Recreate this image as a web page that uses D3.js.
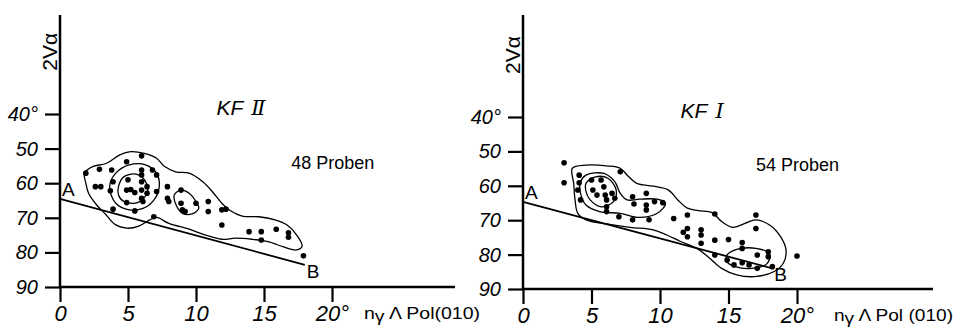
<!DOCTYPE html>
<html>
<head>
<meta charset="utf-8">
<script src="https://cdn.jsdelivr.net/npm/d3@7"></script>
<style>
  body { margin: 0; background: #fff; }
  svg { display: block; }
  .tick text { font-family: "Liberation Sans", Arial, sans-serif; font-style: italic; fill: #000; }
  .lbl { font-family: "Liberation Sans", Arial, sans-serif; fill: #000; }
</style>
</head>
<body>
<div class="container"></div>
<script>
const width = 955;
const height = 329;

const xTicks = [0, 5, 10, 15, 20];
const yTicks = [40, 50, 60, 70, 80, 90];

// KF II, 48 Proben
const kf2X = [1.9, 2.9, 2.6, 3.0, 3.8, 3.9, 3.7, 3.9, 4.9, 5.0, 4.9, 5.2, 5.5, 4.9, 5.5, 6.0, 6.0, 6.0, 6.0, 6.0, 6.0, 6.1, 6.4, 6.4,
  6.8, 7.1, 7.1, 6.9, 7.9, 7.9, 8.0, 8.9, 8.9, 9.0, 9.2, 10.0, 10.9, 10.9, 11.9, 12.2, 11.9, 13.9, 14.8, 14.8, 15.9, 16.8, 16.8, 17.9];
const kf2Y = [57.1, 56.0, 61.0, 61.0, 56.2, 59.6, 62.2, 67.5, 53.8, 59.0, 62.0, 61.8, 62.7, 65.6, 68.0, 52.1, 56.2, 57.6, 59.6, 62.0, 64.4, 65.3, 61.0, 62.9,
  56.2, 57.6, 62.4, 69.7, 61.0, 64.4, 65.3, 62.0, 65.8, 67.7, 68.2, 65.8, 65.3, 68.2, 67.7, 67.5, 72.1, 74.0, 74.0, 76.4, 73.3, 74.3, 75.6, 81.0];

// KF I, 54 Proben
const kf1X = [3.0, 3.0, 4.1, 4.1, 4.0, 4.2, 5.0, 5.1, 5.4, 5.7, 5.9, 6.0, 6.1, 6.1, 6.1, 6.5, 6.7, 7.1, 7.0, 8.0, 8.1, 8.0, 9.0, 9.0, 9.0, 9.2, 9.6,
  10.2, 11.0, 12.0, 12.0, 12.0, 13.0, 13.0, 13.0, 14.0, 14.0, 15.0, 16.0, 17.0, 17.0, 16.0, 14.9, 16.0, 17.1, 17.1, 17.9, 17.9, 18.2, 20.0, 14.0, 15.4, 16.5, 11.7];
const kf1Y = [53.3, 59.1, 56.9, 59.1, 61.2, 64.1, 58.3, 61.2, 62.7, 58.3, 60.3, 62.7, 64.1, 66.1, 67.5, 62.2, 63.6, 55.9, 69.0, 63.2, 65.3, 69.9, 62.2, 65.6, 67.0, 69.9, 64.6,
  64.9, 69.5, 68.5, 72.4, 74.8, 72.8, 74.3, 76.7, 68.2, 75.8, 75.6, 76.5, 68.5, 72.4, 78.2, 81.6, 82.4, 80.1, 84.0, 79.2, 80.6, 83.5, 80.4, 80.1, 83.0, 83.0, 73.5];

// isolines [x, 2V]
const kf2Contours = [
  [[1.8, 57.1], [2.4, 55.2], [3.4, 54.3], [4.4, 51.8], [5.2, 50.9], [6.2, 51.4], [7.1, 52.8], [7.7, 55.2], [8.5, 56.7], [9.5, 57.1],
   [10.5, 59.6], [11.3, 62.9], [11.9, 65.8], [12.5, 67.9], [13.4, 69.5], [14.6, 69.7], [15.8, 70.6], [16.7, 72.1], [17.4, 75.0],
   [17.8, 78.2], [17.4, 79.3], [16.5, 78.5], [15.3, 76.9], [14.1, 76.2], [12.9, 75.9], [11.9, 76.2], [10.7, 75.0], [9.5, 73.3],
   [8.0, 71.6], [7.1, 69.9], [6.6, 70.6], [5.8, 72.4], [4.9, 73.0], [4.0, 71.8], [3.4, 69.2], [2.7, 66.3], [2.1, 62.9], [1.9, 60.0]],
  [[3.65, 61.0], [4.1, 57.1], [5.1, 54.7], [6.3, 54.7], [7.1, 57.1], [7.3, 61.0], [6.9, 64.9], [6.1, 67.3], [5.1, 67.7], [4.1, 65.8]],
  [[4.3, 61.0], [4.7, 58.1], [5.6, 57.4], [6.3, 59.6], [6.4, 62.9], [5.7, 65.6], [4.7, 65.3], [4.3, 63.4]],
  [[8.4, 63.4], [8.9, 62.0], [9.5, 62.9], [10.0, 65.3], [10.2, 67.3], [9.7, 68.9], [9.0, 68.7], [8.6, 66.8]]
];
const kf1Contours = [
  [[3.6, 54.9], [4.6, 54.0], [6.1, 54.2], [7.1, 54.9], [7.7, 57.3], [8.3, 59.3], [9.5, 60.1], [10.6, 61.2], [11.3, 64.1], [12.0, 66.5],
   [12.8, 67.2], [13.8, 67.8], [14.5, 70.4], [15.3, 72.1], [16.2, 70.9], [17.0, 69.9], [18.0, 71.4], [18.8, 74.8], [19.2, 78.7],
   [19.0, 82.5], [18.3, 85.0], [16.9, 86.4], [15.6, 85.9], [14.5, 84.0], [13.5, 80.6], [12.7, 78.2], [11.5, 76.2], [10.5, 74.3],
   [9.5, 72.8], [7.8, 72.1], [6.1, 71.1], [4.6, 69.9], [4.0, 68.0], [3.8, 64.1], [3.7, 59.3]],
  [[4.2, 58.8], [4.6, 56.9], [5.9, 56.4], [6.7, 58.8], [7.1, 62.2], [7.6, 64.1], [8.5, 63.9], [9.8, 63.9], [10.4, 65.1], [9.8, 68.0],
   [8.5, 69.2], [7.1, 68.0], [5.6, 67.5], [4.6, 65.6], [4.2, 62.2]],
  [[4.6, 59.3], [5.3, 57.4], [6.2, 57.8], [6.8, 61.2], [6.6, 64.6], [5.7, 66.1], [4.9, 64.1], [4.6, 61.7]],
  [[14.9, 80.1], [15.6, 78.5], [17.0, 78.2], [18.0, 79.8], [17.8, 82.7], [16.7, 84.0], [15.5, 83.5], [14.9, 82.1]]
];

const panels = [
  { title: 'KF', numeral: 'Ⅱ', count: '48 Proben', xs: kf2X, ys: kf2Y, contours: kf2Contours,
    a: [0, 64.5], b: [18, 83.6], xRange: [60, 332], yRange: [114, 287], axisEnd: 455,
    xLabel: 'Pol(010)', xLabelX: 364, xLabelW: 116 },
  { title: 'KF', numeral: 'Ⅰ', count: '54  Proben', xs: kf1X, ys: kf1Y, contours: kf1Contours,
    a: [0, 64.7], b: [18.2, 84], xRange: [523, 797], yRange: [117, 289], axisEnd: 933,
    xLabel: 'Pol (010)', xLabelX: 834, xLabelW: 119 }
];

const svg = d3
  .select('.container')
  .append('svg')
  .attr('width', width)
  .attr('height', height);

svg.append('rect').attr('width', width).attr('height', height).attr('fill', '#fff');

panels.forEach((p) => {
  const x = d3.scaleLinear().domain([0, 20]).range(p.xRange);
  const y = d3.scaleLinear().domain([40, 90]).range(p.yRange);
  const g = svg.append('g');

  // y axis
  g.append('g')
    .attr('transform', `translate(${x(0)},0)`)
    .call(d3.axisLeft(y).tickValues(yTicks).tickSize(15).tickPadding(7)
      .tickFormat((d) => (d === 40 ? '40°' : d)))
    .call((s) => s.select('.domain').remove())
    .call((s) => s.selectAll('.tick line').attr('stroke-width', 2.2))
    .call((s) => s.selectAll('.tick text').attr('font-size', 20));

  // x axis
  g.append('g')
    .attr('transform', `translate(0,${y(90)})`)
    .call(d3.axisBottom(x).tickValues(xTicks).tickSize(15).tickPadding(3)
      .tickFormat((d) => (d === 20 ? '20°' : d)))
    .call((s) => s.select('.domain').remove())
    .call((s) => s.selectAll('.tick line').attr('stroke-width', 2.2))
    .call((s) => s.selectAll('.tick text').attr('font-size', 22));

  g.append('line')
    .attr('x1', x(0)).attr('x2', x(0))
    .attr('y1', y(90)).attr('y2', 15)
    .attr('stroke', '#000').attr('stroke-width', 2.5);
  g.append('line')
    .attr('x1', x(0)).attr('x2', p.axisEnd)
    .attr('y1', y(90)).attr('y2', y(90))
    .attr('stroke', '#000').attr('stroke-width', 2.5);

  // 2Va label
  g.append('text')
    .attr('class', 'lbl')
    .attr('transform', `translate(${x(0) - 3},${y(22)}) rotate(-90)`)
    .attr('text-anchor', 'middle')
    .attr('font-size', 21)
    .text('2Vα');

  // x label
  const xl = g.append('text')
    .attr('class', 'lbl')
    .attr('x', p.xLabelX)
    .attr('y', y(90) + 32)
    .attr('font-size', 16)
    .attr('textLength', p.xLabelW)
    .attr('lengthAdjust', 'spacingAndGlyphs');
  xl.append('tspan').text('n');
  xl.append('tspan').attr('dy', 3).text('γ');
  xl.append('tspan').attr('dy', -3).text(' Λ ' + p.xLabel);

  // isolines
  const line = d3.line()
    .x((d) => x(d[0]))
    .y((d) => y(d[1]))
    .curve(d3.curveCatmullRomClosed.alpha(0.5));
  g.selectAll('path.iso')
    .data(p.contours)
    .join('path')
    .attr('class', 'iso')
    .attr('d', line)
    .attr('fill', 'none')
    .attr('stroke', '#000')
    .attr('stroke-width', 1.3);

  // A-B line
  g.append('line')
    .attr('x1', x(p.a[0])).attr('y1', y(p.a[1]))
    .attr('x2', x(p.b[0])).attr('y2', y(p.b[1]))
    .attr('stroke', '#000').attr('stroke-width', 1.8);
  g.append('text').attr('class', 'lbl')
    .attr('x', x(p.a[0]) + 2).attr('y', y(p.a[1]) - 3)
    .attr('font-size', 19).text('A');
  g.append('text').attr('class', 'lbl')
    .attr('x', x(p.b[0]) + 2).attr('y', y(p.b[1]) + 13)
    .attr('font-size', 19).text('B');

  // samples
  g.selectAll('circle')
    .data(p.xs.map((v, i) => [v, p.ys[i]]))
    .join('circle')
    .attr('cx', (d) => x(d[0]))
    .attr('cy', (d) => y(d[1]))
    .attr('r', 2.8)
    .attr('fill', '#000');

  // titles
  const t = g.append('text').attr('class', 'lbl')
    .attr('x', x(11.5)).attr('y', y(40.2))
    .attr('font-size', 21).attr('font-style', 'italic');
  t.append('tspan').text(p.title);
  t.append('tspan').attr('dx', 8).attr('font-family', 'DejaVu Serif').text(p.numeral);

  g.append('text').attr('class', 'lbl')
    .attr('x', x(17)).attr('y', y(55.8))
    .attr('font-size', 18)
    .text(p.count);
});
</script>
</body>
</html>
